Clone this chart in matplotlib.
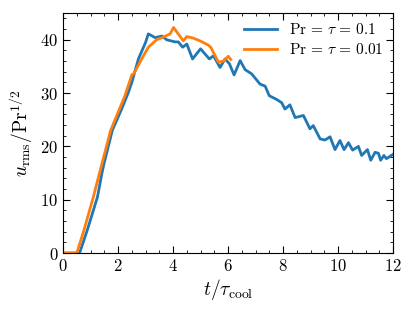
import matplotlib
matplotlib.use('Agg')
import matplotlib.pyplot as plt
from matplotlib.ticker import MultipleLocator

plt.rcParams['font.family'] = 'serif'
plt.rcParams['font.serif'] = ['cmr10']
plt.rcParams['mathtext.fontset'] = 'cm'
plt.rcParams['axes.formatter.use_mathtext'] = True
plt.rcParams['font.size'] = 12

# Pr = tau = 0.1
t_a = [0, 0.6, 0.88, 1.25, 1.41, 1.49, 1.79, 2.13, 2.38, 2.5, 2.74, 3.0, 3.1, 3.35,
       3.59, 3.77, 4.07, 4.19, 4.35, 4.5, 4.71, 5.0, 5.32, 5.47, 5.71, 5.89, 6.05,
       6.22, 6.44, 6.62, 6.86, 7.16, 7.35, 7.5, 7.77, 7.95, 8.07, 8.25, 8.44, 8.74,
       8.98, 9.1, 9.35, 9.53, 9.71, 9.89, 10.07, 10.22, 10.38, 10.53, 10.74, 10.86,
       11.07, 11.19, 11.35, 11.47, 11.55, 11.67, 11.76, 11.94, 12.0]
u_a = [0, 0, 4.3, 10.5, 14.9, 16.8, 23, 27, 30.2, 32, 36.4, 39.5, 41.1, 40.4,
       40.7, 40.0, 39.6, 39.6, 38.6, 39.2, 36.4, 38.3, 36.4, 37.0, 34.8, 36.4, 35.5,
       33.4, 36.1, 34.4, 33.6, 31.7, 31.3, 29.5, 28.8, 28.2, 27.0, 27.8, 25.4, 25.8,
       23.3, 23.9, 21.4, 21.2, 21.8, 19.4, 21.1, 19.4, 20.7, 19.3, 20.0, 18.3,
       19.4, 17.4, 18.9, 18.7, 17.4, 18.3, 17.7, 18.3, 18.5]

# Pr = tau = 0.01
t_b = [0, 0.5, 0.76, 1.10, 1.32, 1.73, 2.05, 2.25, 2.5, 2.58, 2.86, 3.1, 3.4, 3.65,
       3.89, 4.02, 4.37, 4.5, 4.74, 4.98, 5.28, 5.37, 5.65, 5.84, 6.01, 6.1]
u_b = [0, 0, 4.3, 10.5, 14.9, 23, 27, 29.5, 33.4, 33.7, 36.4, 38.6, 40.0, 40.5,
       41.1, 42.3, 39.8, 40.6, 40.3, 39.8, 39.0, 38.6, 35.8, 36.0, 36.9, 36.3]

fig = plt.figure(figsize=(4.15, 3.12), dpi=100)
ax = fig.add_axes([0.152, 0.189, 0.795, 0.769])

ax.plot(t_a, u_a, color='#1f77b4', lw=2, label=r'$\mathrm{Pr}\,=\,\tau\,=\,0.1$')
ax.plot(t_b, u_b, color='#ff7f0e', lw=2, label=r'$\mathrm{Pr}\,=\,\tau\,=\,0.01$')

ax.set_xlim(0, 12)
ax.set_ylim(0, 45)
ax.xaxis.set_major_locator(MultipleLocator(2))
ax.xaxis.set_minor_locator(MultipleLocator(0.5))
ax.yaxis.set_major_locator(MultipleLocator(10))
ax.yaxis.set_minor_locator(MultipleLocator(2))
ax.tick_params(which='both', direction='in', top=True, right=True, labelsize=12)
ax.tick_params(which='major', length=5)
ax.tick_params(which='minor', length=2.5)

ax.set_xlabel(r'$t/\tau_\mathrm{cool}$', fontsize=14, labelpad=2)
ax.set_ylabel(r'$u_\mathrm{rms}/\mathrm{Pr}^{1/2}$', fontsize=14, labelpad=4)
ax.legend(loc='upper right', frameon=False, fontsize=11, handlelength=2.2,
          borderaxespad=0.2, labelspacing=0.3)

fig.savefig('out.png', dpi=100)
